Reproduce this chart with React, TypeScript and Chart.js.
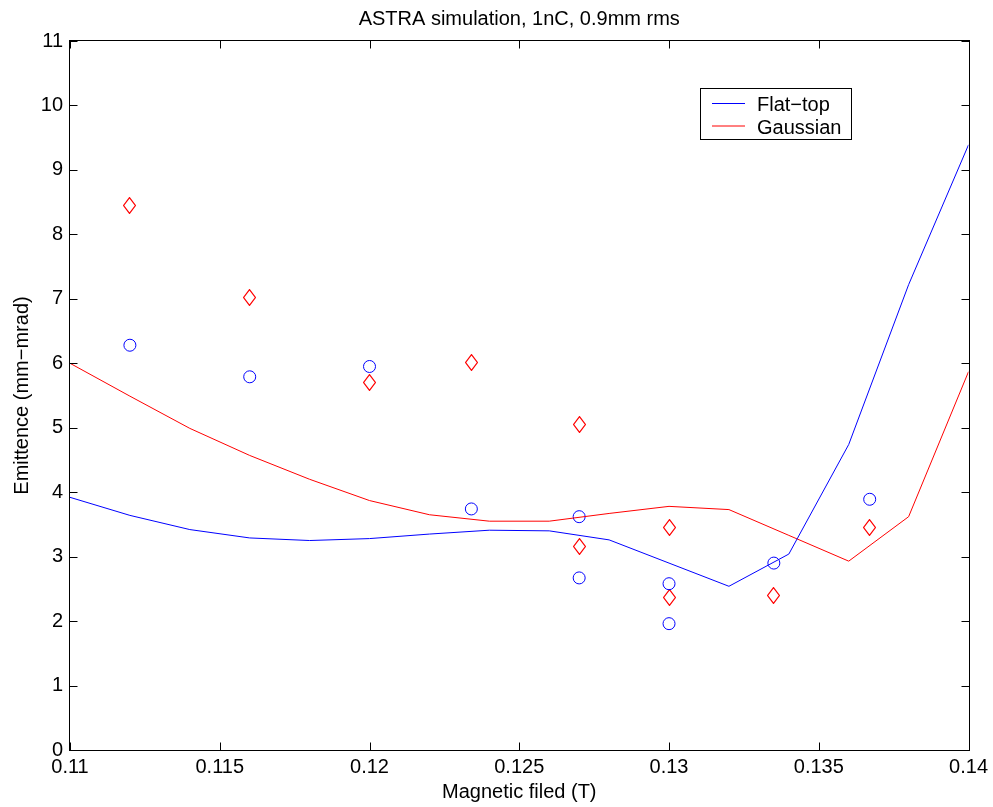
import React, { useEffect, useRef } from "react";
import { Chart, registerables } from "chart.js";

Chart.register(...registerables);

// ---- Data ----
const fieldT = [0.110, 0.112, 0.114, 0.116, 0.118, 0.120, 0.122, 0.124, 0.126, 0.128, 0.130, 0.132, 0.134, 0.136, 0.138, 0.140];
const flatTopSim = [3.92, 3.64, 3.42, 3.29, 3.25, 3.28, 3.35, 3.41, 3.40, 3.26, 2.90, 2.54, 3.04, 4.74, 7.22, 9.39];
const gaussianSim = [6.00, 5.49, 4.99, 4.57, 4.20, 3.87, 3.65, 3.55, 3.55, 3.67, 3.78, 3.73, 3.33, 2.93, 3.62, 5.87];

const measFieldT = [0.112, 0.116, 0.120, 0.1234, 0.127, 0.127, 0.130, 0.130, 0.1335, 0.1367];
const flatTopMeas = [6.28, 5.79, 5.95, 3.74, 3.62, 2.67, 2.58, 1.96, 2.90, 3.89];
const gaussianMeas = [8.45, 7.02, 5.70, 6.01, 5.05, 3.16, 3.45, 2.37, 2.40, 3.45];

const xTickValues = [0.11, 0.115, 0.12, 0.125, 0.13, 0.135, 0.14];
const xTickLabels = ["0.11", "0.115", "0.12", "0.125", "0.13", "0.135", "0.14"];
const yTickValues = [0, 1, 2, 3, 4, 5, 6, 7, 8, 9, 10, 11];

const seriesLabels = ["Flat\u2212top", "Gaussian"];
const titleText = "ASTRA simulation, 1nC, 0.9mm rms";
const xTitle = "Magnetic filed (T)";
const yTitle = "Emittence (mm\u2212mrad)";

const FONT = "'Liberation Sans', Arial, Helvetica, sans-serif";
const BLUE = "#0000ff";
const RED = "#ff0000";

function makeDiamond(w: number, h: number, color: string) {
  const c = document.createElement("canvas");
  c.width = w;
  c.height = h;
  const ctx = c.getContext("2d")!;
  ctx.strokeStyle = color;
  ctx.lineWidth = 1.2;
  ctx.beginPath();
  ctx.moveTo(w / 2, 0.6);
  ctx.lineTo(w - 0.6, h / 2);
  ctx.lineTo(w / 2, h - 0.6);
  ctx.lineTo(0.6, h / 2);
  ctx.closePath();
  ctx.stroke();
  return c;
}

const crispPlugin = {
  id: "crispImages",
  beforeDatasetsDraw(chart: any) {
    chart.ctx.imageSmoothingEnabled = false;
  },
  afterDatasetsDraw(chart: any) {
    chart.ctx.imageSmoothingEnabled = true;
  },
};

const framePlugin = {
  id: "matlabFrame",
  afterDraw(chart: any) {
    const { ctx, chartArea } = chart;
    const { left, right, top, bottom } = chartArea;
    const xs = chart.scales.x;
    const ys = chart.scales.y;
    ctx.save();
    ctx.strokeStyle = "#000";
    ctx.lineWidth = 1;
    const L = Math.round(left) - 0.5;
    const R = Math.round(right) + 0.5;
    const T = Math.round(top) - 0.5;
    const B = Math.round(bottom) + 0.5;
    ctx.strokeRect(L, T, R - L, B - T);
    const tl = 8;
    ctx.beginPath();
    xTickValues.forEach((v) => {
      const px = Math.round(xs.getPixelForValue(v)) + 0.5;
      ctx.moveTo(px, B);
      ctx.lineTo(px, B - tl);
      ctx.moveTo(px, T);
      ctx.lineTo(px, T + tl);
    });
    yTickValues.forEach((v) => {
      const py = Math.round(ys.getPixelForValue(v)) + 0.5;
      ctx.moveTo(L, py);
      ctx.lineTo(L + tl, py);
      ctx.moveTo(R, py);
      ctx.lineTo(R - tl, py);
    });
    ctx.stroke();

    // legend
    const lines = chart.data.datasets.filter((d: any) => d.showLine);
    const bx = 700.5, by = 88.5, bw = 151, bh = 51;
    ctx.fillStyle = "#fff";
    ctx.fillRect(bx, by, bw, bh);
    ctx.strokeStyle = "#000";
    ctx.strokeRect(bx, by, bw, bh);
    ctx.font = `20px ${FONT}`;
    ctx.textBaseline = "alphabetic";
    ctx.textAlign = "left";
    lines.forEach((d: any, i: number) => {
      const ly = 103.5 + i * 22.5;
      ctx.strokeStyle = d.borderColor;
      ctx.beginPath();
      ctx.moveTo(712, ly);
      ctx.lineTo(745, ly);
      ctx.stroke();
      ctx.fillStyle = "#000";
      ctx.fillText(d.label, 757, 111 + i * 22.5);
    });
    ctx.restore();
  },
};

export default function App() {
  const ref = useRef<HTMLCanvasElement | null>(null);

  useEffect(() => {
    if (!ref.current) return;
    const diamond = makeDiamond(13, 17, RED);
    const chart = new Chart(ref.current, {
      type: "scatter",
      data: {
        datasets: [
          {
            label: seriesLabels[0],
            data: fieldT.map((x, i) => ({ x, y: flatTopSim[i] })),
            showLine: true,
            borderColor: BLUE,
            backgroundColor: BLUE,
            borderWidth: 1,
            pointRadius: 0,
            tension: 0,
          },
          {
            label: seriesLabels[1],
            data: fieldT.map((x, i) => ({ x, y: gaussianSim[i] })),
            showLine: true,
            borderColor: RED,
            backgroundColor: RED,
            borderWidth: 1,
            pointRadius: 0,
            tension: 0,
          },
          {
            label: "Flat-top measured",
            data: measFieldT.map((x, i) => ({ x, y: flatTopMeas[i] })),
            showLine: false,
            pointStyle: "circle",
            pointRadius: 6,
            borderColor: BLUE,
            backgroundColor: "rgba(0,0,0,0)",
            borderWidth: 1,
          },
          {
            label: "Gaussian measured",
            data: measFieldT.map((x, i) => ({ x, y: gaussianMeas[i] })),
            showLine: false,
            pointStyle: diamond as any,
            pointRadius: 7,
            borderColor: RED,
            backgroundColor: "rgba(0,0,0,0)",
            borderWidth: 1,
          },
        ],
      },
      options: {
        animation: false,
        responsive: false,
        events: [],
        layout: { padding: { left: 0, right: 23, top: 0, bottom: 0 } },
        plugins: {
          legend: { display: false },
          tooltip: { enabled: false },
          title: {
            display: true,
            text: titleText,
            color: "#000",
            fullSize: false,
            font: { family: FONT, size: 20, weight: "normal", lineHeight: 1.2 },
            padding: { top: 7, bottom: 10 },
          },
        },
        scales: {
          x: {
            type: "linear",
            min: 0.11,
            max: 0.14,
            grid: { display: false, drawTicks: false },
            border: { display: false },
            afterBuildTicks: (s: any) => {
              s.ticks = xTickValues.map((v) => ({ value: v }));
            },
            afterFit: (s: any) => {
              s.height = 57;
            },
            ticks: {
              color: "#000",
              padding: 5,
              maxRotation: 0,
              autoSkip: false,
              font: { family: FONT, size: 20 },
              callback: (v: any) => {
                const i = xTickValues.findIndex((t) => Math.abs(t - Number(v)) < 1e-9);
                return i >= 0 ? xTickLabels[i] : "";
              },
            },
            title: {
              display: true,
              text: xTitle,
              color: "#000",
              font: { family: FONT, size: 20 },
              padding: { top: 0, bottom: 3 },
            },
          },
          y: {
            type: "linear",
            min: 0,
            max: 11,
            grid: { display: false, drawTicks: false },
            border: { display: false },
            afterBuildTicks: (s: any) => {
              s.ticks = yTickValues.map((v) => ({ value: v }));
            },
            afterFit: (s: any) => {
              s.width = 70;
            },
            ticks: {
              color: "#000",
              padding: 7,
              autoSkip: false,
              font: { family: FONT, size: 20 },
              callback: (v: any) => String(v),
            },
            title: {
              display: true,
              text: yTitle,
              color: "#000",
              font: { family: FONT, size: 20 },
              padding: { top: 10, bottom: 0 },
            },
          },
        },
      },
      plugins: [crispPlugin, framePlugin],
    });
    return () => chart.destroy();
  }, []);

  return (
    <div style={{ position: "absolute", left: 0, top: 0, width: 993, height: 807, background: "#fff" }}>
      <canvas ref={ref} width={993} height={807} style={{ display: "block" }} />
    </div>
  );
}
